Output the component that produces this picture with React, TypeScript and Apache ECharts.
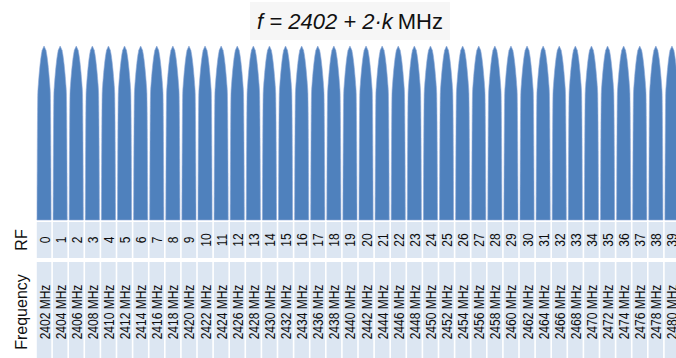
import React, { useEffect, useRef } from "react";
import * as echarts from "echarts";

const channels: number[] = [
  0, 1, 2, 3, 4, 5, 6, 7, 8, 9, 10, 11, 12, 13, 14, 15, 16, 17, 18, 19,
  20, 21, 22, 23, 24, 25, 26, 27, 28, 29, 30, 31, 32, 33, 34, 35, 36, 37, 38, 39,
];
const frequencies: number[] = [
  2402, 2404, 2406, 2408, 2410, 2412, 2414, 2416, 2418, 2420,
  2422, 2424, 2426, 2428, 2430, 2432, 2434, 2436, 2438, 2440,
  2442, 2444, 2446, 2448, 2450, 2452, 2454, 2456, 2458, 2460,
  2462, 2464, 2466, 2468, 2470, 2472, 2474, 2476, 2478, 2480,
];
const peakLevels: number[] = [
  1, 1, 1, 1, 1, 1, 1, 1, 1, 1, 1, 1, 1, 1, 1, 1, 1, 1, 1, 1,
  1, 1, 1, 1, 1, 1, 1, 1, 1, 1, 1, 1, 1, 1, 1, 1, 1, 1, 1, 1,
];
const rfLabels: string[] = channels.map(String);
const freqLabels: string[] = frequencies.map((f) => f + " MHz");

const BLUE = "#4f81bd";
const CELL = "#dce6f2";
const SANS = "'Liberation Sans', Arial, sans-serif";

// half-width profile of one channel lobe (t: 0 at top, 1 at base)
function lobe(t: number): number {
  if (t <= 0.25) return 0.86 * Math.sqrt(t / 0.25);
  return 0.86 + 0.14 * Math.sqrt((t - 0.25) / 0.75);
}

function cellRenderer(labels: string[]) {
  return (params: any, api: any) => {
    const idx = api.value(0);
    const top = api.coord([idx, 1]);
    const base = api.coord([idx, 0]);
    const band = api.size([1, 0])[0];
    const w = band * 0.9;
    return {
      type: "group",
      children: [
        {
          type: "rect",
          shape: { x: top[0] - w / 2, y: top[1], width: w, height: base[1] - top[1] },
          style: { fill: CELL },
        },
        {
          type: "text",
          x: top[0] + 0.5,
          y: (top[1] + base[1]) / 2,
          rotation: Math.PI / 2,
          scaleX: 0.8,
          style: {
            text: labels[params.dataIndex],
            fontFamily: SANS,
            fontSize: 15,
            fill: "#0d0d0d",
            align: "center",
            verticalAlign: "middle",
          },
        },
      ],
    };
  };
}

export default function App() {
  const ref = useRef<HTMLDivElement>(null);
  useEffect(() => {
    if (!ref.current) return;
    const chart = echarts.init(ref.current, null, { renderer: "svg" });
    const cats = channels.map(String);
    const gridBase = { left: 36, width: 644, outerBoundsMode: "none", containLabel: false };
    const xAx = (gi: number) => ({
      type: "category",
      gridIndex: gi,
      data: cats,
      boundaryGap: true,
      axisLine: { show: false },
      axisTick: { show: false },
      axisLabel: { show: false },
      splitLine: { show: false },
    });
    const yAx = (gi: number, name: string) => ({
      type: "value",
      gridIndex: gi,
      min: 0,
      max: 1,
      name,
      nameLocation: "middle",
      nameRotate: 90,
      nameGap: 7,
      nameTextStyle: { fontFamily: SANS, fontSize: 16, color: "#111" },
      axisLine: { show: false },
      axisTick: { show: false },
      axisLabel: { show: false },
      splitLine: { show: false },
    });
    chart.setOption({
      animation: false,
      title: {
        text: "{i|f = 2402 + 2·k} {n|MHz}",
        left: 250,
        top: 0,
        padding: [8, 7, 8, 7],
        backgroundColor: "#f6f6f6",
        textStyle: {
          rich: {
            i: { fontFamily: SANS, fontStyle: "italic", fontWeight: "normal", fontSize: 22, color: "#111", lineHeight: 26 },
            n: { fontFamily: SANS, fontWeight: "normal", fontSize: 22, color: "#111", lineHeight: 26 },
          },
        },
      },
      grid: [
        { ...gridBase, top: 46, height: 174 },
        { ...gridBase, top: 222, height: 36 },
        { ...gridBase, top: 262, height: 100 },
      ],
      xAxis: [xAx(0), xAx(1), xAx(2)],
      yAxis: [yAx(0, ""), yAx(1, "RF"), yAx(2, "Frequency")],
      series: [
        {
          type: "custom",
          xAxisIndex: 0,
          yAxisIndex: 0,
          data: channels.map((c, i) => [c, peakLevels[i]]),
          renderItem: (params: any, api: any) => {
            const top = api.coord([api.value(0), api.value(1)]);
            const base = api.coord([api.value(0), 0]);
            const band = api.size([1, 0])[0];
            const hw = band * 0.44;
            const N = 40;
            const left: number[][] = [];
            const right: number[][] = [];
            for (let i = 0; i <= N; i++) {
              const t = i / N;
              const f = lobe(t);
              const y = top[1] + t * (base[1] - top[1]);
              left.push([top[0] - hw * f, y]);
              right.push([top[0] + hw * f, y]);
            }
            const points = left.concat(right.reverse());
            return {
              type: "polygon",
              shape: { points },
              style: { fill: BLUE, stroke: "#8eaad8", lineWidth: 0.6 },
            };
          },
        },
        {
          type: "custom",
          xAxisIndex: 1,
          yAxisIndex: 1,
          data: channels.map((c) => [c, 1]),
          renderItem: cellRenderer(rfLabels),
        },
        {
          type: "custom",
          xAxisIndex: 2,
          yAxisIndex: 2,
          data: channels.map((c) => [c, 1]),
          renderItem: cellRenderer(freqLabels),
        },
      ],
    });
    return () => chart.dispose();
  }, []);
  return (
    <div style={{ position: "absolute", left: 0, top: 0 }}>
      <div ref={ref} style={{ width: 676, height: 358 }} />
    </div>
  );
}
